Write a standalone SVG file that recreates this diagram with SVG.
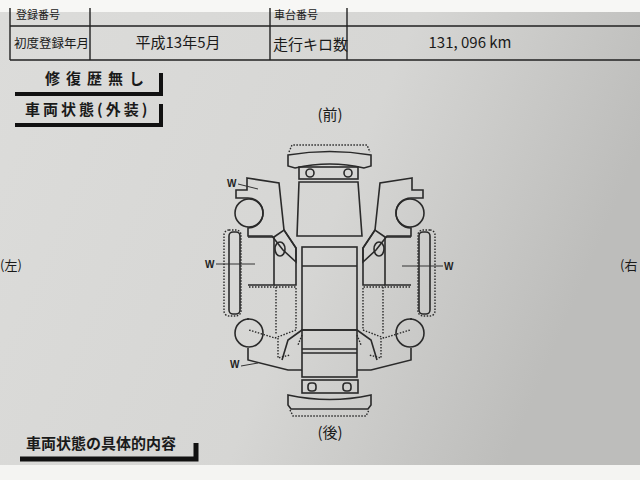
<svg xmlns="http://www.w3.org/2000/svg" width="640" height="480" viewBox="0 0 640 480">
<defs>
<linearGradient id="bg" x1="0" y1="0" x2="1" y2="0.3">
<stop offset="0" stop-color="#dcdcda"/><stop offset="0.6" stop-color="#d6d6d4"/><stop offset="1" stop-color="#bdbdbb"/>
</linearGradient>
<style>
.t{font-family:"Noto Sans CJK JP","Liberation Sans",sans-serif;fill:#1a1a1a}
.s{fill:none;stroke:#2a2a2a;stroke-width:1.6}
.d{fill:none;stroke:#2a2a2a;stroke-width:1.4;stroke-dasharray:1.5 1.5}
.w{font-family:"Liberation Sans",sans-serif;font-weight:bold;font-size:10px;fill:#222}
</style>
<g id="half">
<path class="s" d="M247,178 L279,183 L284,230 L296,248 L296,262 L283,250 L272,236 L248,236 L248,228 A15,15 0 0 0 248,198 L236,198 L236,190 L247,190 Z"/>
<circle class="s" cx="249" cy="213" r="14"/>
<rect class="d" x="224" y="230" width="17" height="86" rx="5"/>
<rect class="s" x="229" y="232" width="11" height="82" rx="4"/>
<path class="s" d="M248,237 H274 V285 H248"/>
<path class="s" d="M274,237 L284,230 L296,248 L296,285 H274"/>
<ellipse class="s" cx="280" cy="249" rx="5" ry="7"/>
<path class="d" d="M249,287 H296 V330 L275,338 L249,330"/>
<path class="d" d="M276,287 V335"/>
<path class="s" d="M248,318 V320 M248,348 L248,360 L288,370 L302,370"/>
<circle class="s" cx="249" cy="333" r="14"/>
<path class="s" d="M282,360 L288,340 L302,330"/>
<path class="d" d="M278,338 V358 L290,355 M302,335 L298,345"/>
</g>
</defs>
<rect width="640" height="480" fill="#f4f4f2"/>
<rect x="0" y="12" width="640" height="453" fill="url(#bg)"/>
<rect x="0" y="0" width="640" height="12" fill="#f7f7f5"/>
<g id="table">
<path d="M10,8 V60 M90,8 V60 M270,8 V60 M347,8 V60 M10,26 H640 M10,60 H640" stroke="#222" stroke-width="1.4" fill="none"/>
<text class="t" x="16" y="19" font-size="11">登録番号</text>
<text class="t" x="274" y="19" font-size="11">車台番号</text>
<text class="t" x="14" y="48" font-size="12.5">初度登録年月</text>
<text class="t" x="178" y="48" font-size="15" text-anchor="middle">平成13年5月</text>
<text class="t" x="273" y="50" font-size="15">走行キロ数</text>
<text class="t" x="470" y="48" font-size="15" text-anchor="middle">131, 096 km</text>
</g>
<g id="headers">
<text class="t" x="45" y="84" font-size="15" letter-spacing="6" font-weight="bold">修復歴無し</text>
<path d="M15,94 H161 V73" stroke="#111" stroke-width="4" fill="none"/>
<text class="t" x="25" y="115" font-size="15" letter-spacing="3" font-weight="bold">車両状態(外装)</text>
<path d="M15,125 H161 V104" stroke="#111" stroke-width="4" fill="none"/>
<text class="t" x="26" y="449" font-size="15" font-weight="bold">車両状態の具体的内容</text>
<path d="M20,459 H196 V443" stroke="#111" stroke-width="5" fill="none"/>
<text class="t" x="0" y="270" font-size="13">(左)</text>
<text class="t" x="620" y="270" font-size="13">(右</text>
<text class="t" x="330" y="120" font-size="15" text-anchor="middle">(前)</text>
<text class="t" x="330" y="438" font-size="15" text-anchor="middle">(後)</text>
</g>
<g id="car">
<path class="d" d="M289,152 L292,145 H367 L370,152"/>
<path class="s" d="M288,166 V155 Q330,148 371,155 V166 L364,168 Q330,160 295,168 Z"/>
<rect class="s" x="299" y="167" width="59" height="12"/>
<circle class="s" cx="310" cy="173" r="4"/><circle class="s" cx="348" cy="173" r="4"/>
<path class="s" d="M299,182 H358 L362,236 H297 Z"/>
<rect class="s" x="302" y="247" width="55" height="83"/>
<path class="s" d="M302,266 H357"/>
<rect class="s" x="302" y="330" width="55" height="47"/>
<path class="s" d="M302,349 H357 M302,353 H357"/>
<rect class="s" x="302" y="380" width="56" height="13"/>
<rect class="s" x="308" y="383" width="8" height="8" rx="3"/><rect class="s" x="343" y="383" width="8" height="8" rx="3"/>
<path class="s" d="M288,395 Q330,404 371,395 V405 L368,409 H291 L288,405 Z"/>
<path class="d" d="M290,410 L293,416 H366 L369,410"/>
<use href="#half"/>
<use href="#half" transform="translate(659,0) scale(-1,1)"/>
</g>
<g id="labels">
<text class="w" x="227" y="187">W</text><path d="M238,184 L258,189" stroke="#333" stroke-width="1"/>
<text class="w" x="205" y="268">W</text><path d="M216,264 H255" stroke="#333" stroke-width="1"/>
<text class="w" x="230" y="368">W</text><path d="M241,366 L258,363" stroke="#333" stroke-width="1"/>
<text class="w" x="444" y="270">W</text><path d="M402,266 H443" stroke="#333" stroke-width="1"/>
</g>
</svg>
